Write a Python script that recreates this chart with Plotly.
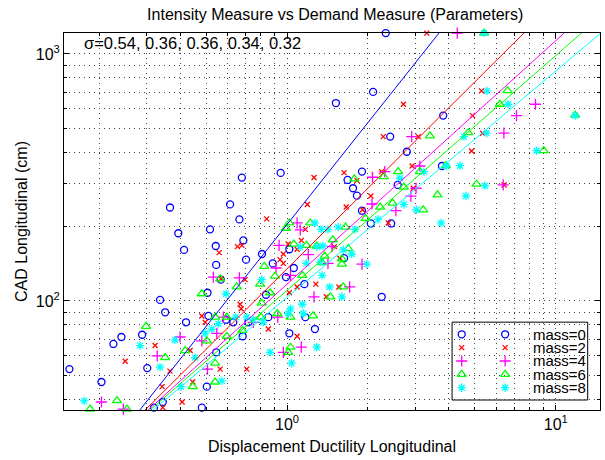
import numpy as np
import plotly.graph_objects as go

title_text = "Intensity Measure vs Demand Measure (Parameters)"
x_title = "Displacement Ductility Longitudinal"
y_title = "CAD Longitudinal (cm)"
sigma_text = "σ=0.54, 0.36, 0.36, 0.34, 0.32"

x_limits = [0.148, 14.6]
y_limits = [36.2, 1216]

series_names = ["mass=0", "mass=2", "mass=4", "mass=6", "mass=8"]

mass0_x = [0.367,0.614,0.679,0.665,0.947,0.517,0.688,0.543,0.704,0.545,0.567,0.807,0.885,1.02,0.991,1.06,1.16,0.835,0.506,0.51,0.593,0.631,0.718,0.852,1.17,1.27,1.02,0.684,0.545,0.503,0.482,1.90,1.68,1.76,1.82,1.90,2.05,2.44,2.58,2.79,3.77,1.63,2.25,2.33,3.81,2.42,0.32,0.345,0.204,0.155,
           0.226,0.242,0.289,0.302,0.337,0.352,0.394,0.414,0.421,1.52,2.09]
mass0_y = [239,246,316,214,330,195,176,167,147,140,122,155,142,162,125,136,117,106,108,87,84,82,82,86,86,77,74,72,62,45,37,334,309,286,267,232,206,206,295,402,352,149,104,1215,563,463,37,39,47,53,
           67,71.5,73,53.5,101,90,188,161,82,633,702]

mass2_x = [1.26,1.63,1.82,2.25,2.92,1.19,0.84,2.05,1.66,1.91,2.38,1.17,1.13,0.654,0.679,0.559,1.09,1.01,0.969,0.942,1.50,1.57,0.698,0.568,1.28,1.09,1.40,1.56,1.02,0.669,0.675,0.482,0.496,0.852,1.09,0.564,0.708,0.969,3.31,5.29,2.71,4.90,2.28,3.08,5.34,4.86,2.95,6.42,0.345,0.407,0.446,0.343,
           0.25,0.323,0.367,0.436]
mass2_y = [316,331,307,334,352,246,215,266,240,234,207,195,176,166,168,157,162,170,155,147,166,149,122,123,117,114,104,114,108,97,93,87,82,77,72,53,53,142,1215,709,626,563,463,463,478,405,286,295,37,39,47,45,
           57,66,52,63]

mass4_x = [1.09,1.12,2.08,2.31,3.12,3.02,2.89,2.54,2.07,0.934,1.20,1.42,1.47,0.91,1.03,1.90,1.71,1.26,0.532,0.665,0.58,0.749,0.924,1.13,0.969,0.548,0.482,0.506,4.30,8.40,7.14,2.91,6.41,6.37,0.204,0.246,
           0.329,0.40]
mass4_y = [207,194,317,334,352,286,266,232,247,168,154,142,166,136,127,141,114,104,125,124,86,82,86,65,62,74,69,53,1215,626,563,463,478,295,39,36.5,
           60,71.5]

mass6_x = [2.59,2.29,1.78,3.12,2.72,3.63,2.47,2.22,3.21,1.96,1.22,1.02,0.991,1.65,1.48,1.29,1.18,1.06,1.69,1.38,1.35,1.60,1.60,0.823,0.902,1.14,0.564,0.65,0.794,0.865,1.62,1.45,0.805,0.482,0.54,0.597,0.80,0.92,1.03,1.25,0.682,0.597,0.503,1.03,1.01,0.54,0.54,5.41,6.61,6.19,11.8,4.72,3.40,3.90,9.02,5.07,0.185,0.233,0.254,0.446,
           0.299,0.352,0.418]
mass6_y = [334,319,312,334,289,269,249,240,234,216,207,207,197,199,177,167,168,170,163,152,143,148,141,138,126,127,123,114,117,108,114,104,98,107,86,86,86,89,86,87,76,72,69,65,62,56,47,1215,711,626,566,480,466,353,406,297,36.5,39.5,36.5,45,
           79,59,63]

mass8_x = [2.63,3.23,3.92,2.72,3.03,2.18,3.74,1.34,1.42,1.55,1.79,1.27,1.12,1.29,1.36,1.62,1.74,1.18,1.33,1.98,1.35,0.805,1.44,1.60,0.593,1.14,1.03,1.01,0.645,0.708,0.816,1.15,0.555,0.525,0.496,0.865,1.29,1.04,0.572,0.749,5.41,5.55,6.65,11.8,4.55,5.53,4.40,8.48,5.45,4.63,0.148,0.176,0.404,
           0.284,0.337,0.383,0.455]
mass8_y = [314,334,352,246,234,214,207,195,195,199,195,207,166,166,167,161,155,142,144,141,127,122,114,104,107,97,93,89,86,86,82,89,81,77,74,62,65,56,47.5,84,1215,709,626,563,463,478,353,406,293,266,36.2,39.4,45,
           66,54,69.5,59]

# fitted power laws: y = fit_coef * x ** fit_exp
fit_coef = [204, 135, 117, 110.4, 103.5]
fit_exp = [1.371, 1.083, 0.986, 0.951, 0.9165]

colors = ["#0000FF", "#FF0000", "#FF00FF", "#00FF00", "#00FFFF"]
symbols = ["circle-open", "x-thin", "cross-thin", "triangle-up-open", "asterisk"]
sizes = [7, 5, 8, 8, 7]

xs = [mass0_x, mass2_x, mass4_x, mass6_x, mass8_x]
ys = [mass0_y, mass2_y, mass4_y, mass6_y, mass8_y]

font_family = "Liberation Sans, Arial, Helvetica, sans-serif"

fig = go.Figure()
for i in range(5):
    fig.add_trace(go.Scatter(
        x=xs[i], y=ys[i], mode="markers", name=series_names[i],
        cliponaxis=False, showlegend=False,
        marker=dict(symbol=symbols[i], size=sizes[i], color=colors[i],
                    line=dict(color=colors[i], width=1.3)),
    ))
xl = np.array(x_limits)
for i in range(5):
    fig.add_trace(go.Scatter(
        x=xl, y=fit_coef[i] * xl ** fit_exp[i], mode="lines",
        line=dict(color=colors[i], width=1), showlegend=False, hoverinfo="skip",
    ))

# ---- MATLAB-style legend box (drawn on an overlay paper-like axis) ----
leg_x0, leg_x1, leg_y0, leg_y1 = 0.724, 0.977, 0.0265, 0.233
leg_sym_x = [0.742, 0.823]
leg_row_top, leg_row_step = 0.2008, 0.0354
fig.add_shape(type="rect", xref="paper", yref="paper", x0=leg_x0, x1=leg_x1,
              y0=leg_y0, y1=leg_y1, line=dict(color="black", width=1),
              fillcolor="white", layer="between")
for i in range(5):
    yy = leg_row_top - i * leg_row_step
    fig.add_trace(go.Scatter(
        x=leg_sym_x, y=[yy, yy], xaxis="x2", yaxis="y2", mode="markers",
        showlegend=False, hoverinfo="skip", cliponaxis=False,
        marker=dict(symbol=symbols[i], size=sizes[i], color=colors[i],
                    line=dict(color=colors[i], width=1.3)),
    ))
    fig.add_annotation(text=series_names[i], xref="paper", yref="paper",
                       x=leg_x1 + 0.001, y=yy, xanchor="right", yanchor="middle",
                       showarrow=False, font=dict(size=15, color="black"))

def minor_vals(lo_dec, hi_dec):
    vals = []
    for d in range(lo_dec, hi_dec + 1):
        for m in range(2, 10):
            vals.append(m * 10.0 ** d)
    return vals

axis_common = dict(
    type="log", showline=True, linecolor="black", linewidth=1, mirror="ticks",
    ticks="inside", ticklen=5, tickcolor="black",
    showgrid=True, gridcolor="#444444", griddash="1px,4px", gridwidth=1,
    zeroline=False, tickfont=dict(size=16, color="black", family=font_family),
)

fig.update_layout(
    width=605, height=460,
    margin=dict(l=64, r=5, t=33, b=50),
    paper_bgcolor="white", plot_bgcolor="white",
    font=dict(family=font_family, color="black", size=16),
    title=dict(text=title_text, x=0.554, xanchor="center", y=0.9696, yanchor="middle",
               font=dict(size=16, color="black")),
    xaxis=dict(
        range=[np.log10(x_limits[0]), np.log10(x_limits[1])],
        tickvals=[1, 10], ticktext=["10<sup>0</sup>", "10<sup>1</sup>"],
        title=dict(text=x_title, font=dict(size=16), standoff=8),
        minor=dict(tickvals=minor_vals(-1, 1), ticks="inside", ticklen=3, tickcolor="black",
                   showgrid=True, gridcolor="#444444", griddash="1px,4px", gridwidth=1),
        **axis_common,
    ),
    yaxis=dict(
        range=[np.log10(y_limits[0]), np.log10(y_limits[1])],
        tickvals=[100, 1000], ticktext=["10<sup>2</sup>", "10<sup>3</sup>"],
        title=dict(text=y_title, font=dict(size=16), standoff=4),
        minor=dict(tickvals=minor_vals(1, 3), ticks="inside", ticklen=3, tickcolor="black",
                   showgrid=True, gridcolor="#444444", griddash="1px,4px", gridwidth=1),
        **axis_common,
    ),
    xaxis2=dict(overlaying="x", range=[0, 1], visible=False, fixedrange=True),
    yaxis2=dict(overlaying="y", range=[0, 1], visible=False, fixedrange=True),
    showlegend=False,
)

fig.add_annotation(text=sigma_text, xref="paper", yref="paper", x=0.034, y=0.9735,
                   xanchor="left", yanchor="middle", showarrow=False,
                   font=dict(size=16.5, color="black"))

fig.write_html("out.html")
